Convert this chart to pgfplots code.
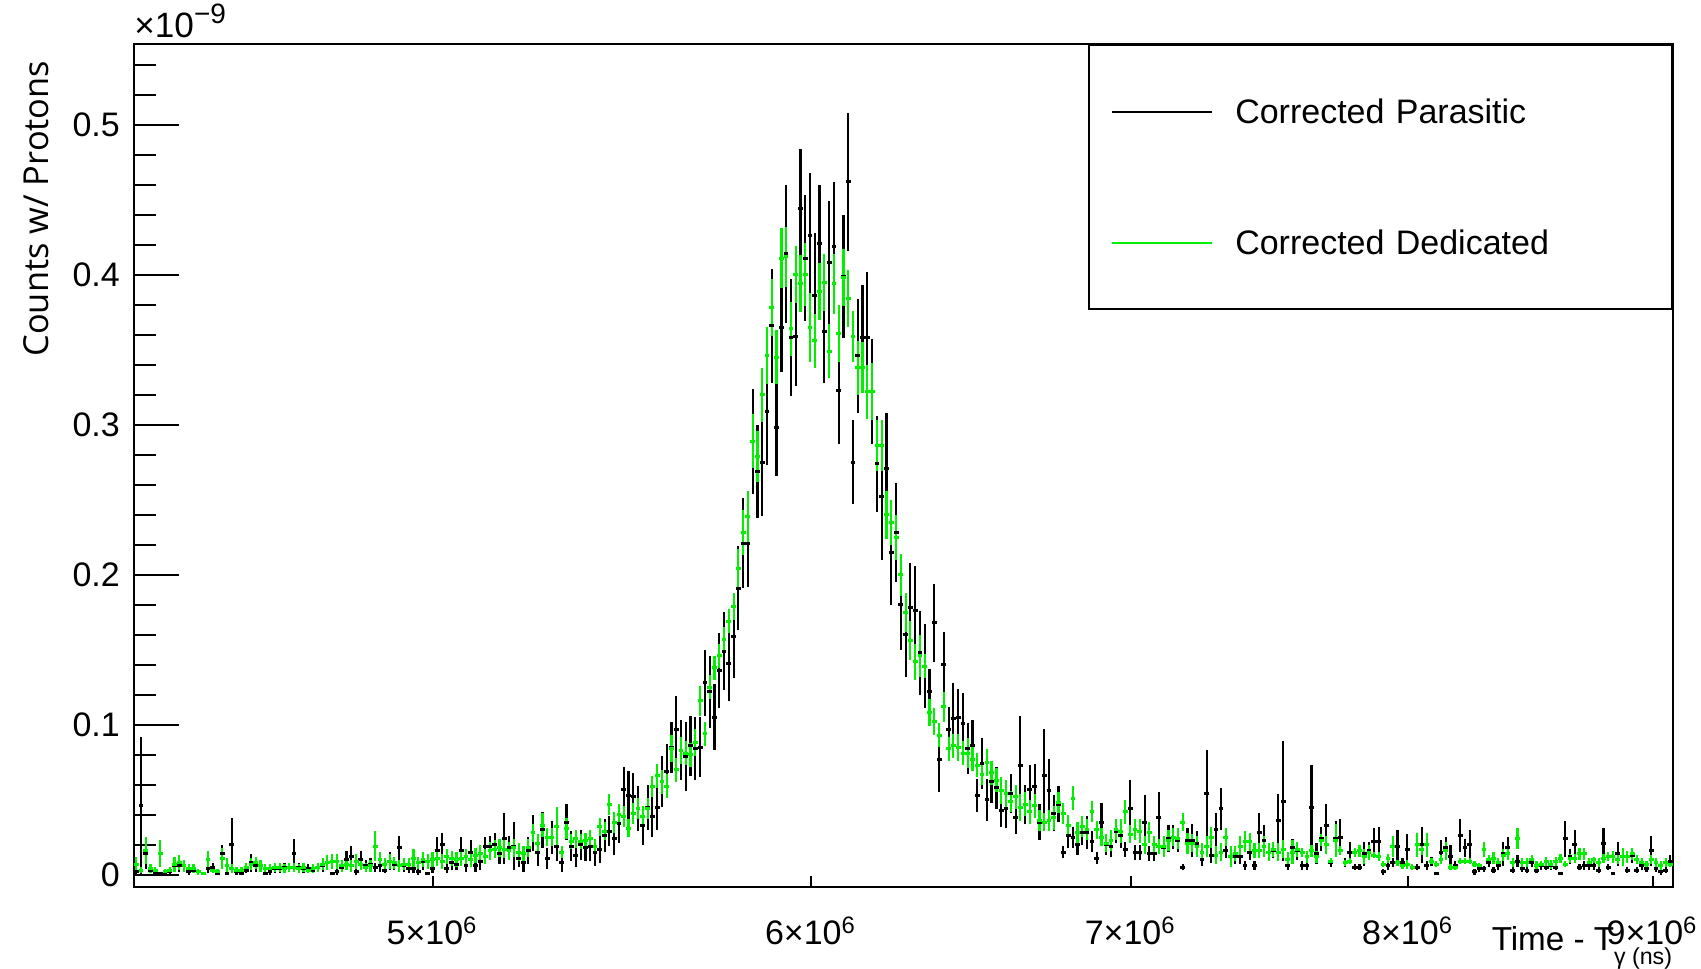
\documentclass[border=0pt]{standalone}
\usepackage{fontspec}
\setmainfont{Liberation Sans}
\newfontfamily\ylfont{Open Sans}
\usepackage{pgfplots}
\usepackage{pgfplotstable}
\pgfplotsset{compat=1.18}
\definecolor{rootgreen}{RGB}{0,240,0}

\pgfplotstableread{
lx b eb g eg
6.637 0.002 0.002 0.007 0.005
6.638 0.046 0.046 0.003 0.002
6.639 0.014 0.010 0.016 0.009
6.640 0.003 0.002 0.004 0.003
6.641 0.001 0.001 0.003 0.002
6.642 0.001 0.001 0.014 0.009
6.643 0.001 0.001 0.002 0.002
6.644 0.002 0.002 0.003 0.002
6.645 0.006 0.004 0.007 0.005
6.646 0.006 0.004 0.008 0.005
6.647 0.006 0.004 0.006 0.004
6.648 0.002 0.002 0.004 0.003
6.649 0.003 0.002 0.004 0.003
6.650 0.002 0.002 0.002 0.002
6.651 0.001 0.001 0.001 0.001
6.652 0.004 0.003 0.010 0.006
6.653 0.005 0.003 0.003 0.002
6.654 0.001 0.001 0.002 0.002
6.655 0.014 0.006 0.011 0.007
6.656 0.001 0.001 0.006 0.005
6.657 0.020 0.018 0.004 0.003
6.658 0.002 0.002 0.003 0.002
6.659 0.001 0.001 0.003 0.002
6.660 0.003 0.002 0.005 0.003
6.661 0.008 0.006 0.007 0.004
6.662 0.006 0.004 0.008 0.004
6.663 0.006 0.004 0.006 0.004
6.664 0.001 0.001 0.004 0.003
6.665 0.002 0.002 0.004 0.003
6.666 0.004 0.003 0.005 0.003
6.667 0.004 0.003 0.005 0.003
6.668 0.005 0.003 0.004 0.003
6.669 0.005 0.003 0.005 0.003
6.670 0.014 0.010 0.005 0.003
6.671 0.005 0.003 0.004 0.003
6.672 0.004 0.003 0.005 0.003
6.673 0.004 0.003 0.003 0.002
6.674 0.003 0.002 0.004 0.003
6.675 0.005 0.003 0.005 0.003
6.676 0.006 0.004 0.007 0.004
6.677 0.008 0.005 0.008 0.005
6.678 0.001 0.001 0.009 0.005
6.679 0.002 0.002 0.009 0.005
6.680 0.005 0.003 0.006 0.004
6.681 0.010 0.006 0.007 0.004
6.682 0.012 0.007 0.006 0.004
6.683 0.002 0.002 0.009 0.005
6.684 0.010 0.006 0.007 0.004
6.685 0.006 0.004 0.005 0.003
6.686 0.007 0.004 0.006 0.004
6.687 0.005 0.003 0.019 0.010
6.688 0.006 0.004 0.010 0.005
6.689 0.003 0.002 0.007 0.004
6.690 0.009 0.006 0.009 0.005
6.691 0.007 0.004 0.008 0.004
6.692 0.018 0.008 0.006 0.004
6.693 0.006 0.004 0.007 0.004
6.694 0.004 0.003 0.007 0.004
6.695 0.004 0.003 0.011 0.006
6.696 0.002 0.002 0.008 0.004
6.697 0.009 0.006 0.010 0.005
6.698 0.001 0.001 0.009 0.005
6.699 0.004 0.003 0.010 0.005
6.700 0.016 0.009 0.011 0.005
6.701 0.020 0.008 0.009 0.005
6.702 0.004 0.003 0.012 0.005
6.703 0.008 0.005 0.011 0.005
6.704 0.007 0.004 0.010 0.005
6.705 0.016 0.009 0.011 0.005
6.706 0.006 0.004 0.012 0.005
6.707 0.015 0.008 0.010 0.005
6.708 0.006 0.004 0.013 0.005
6.709 0.009 0.006 0.014 0.006
6.710 0.019 0.006 0.012 0.005
6.711 0.019 0.007 0.016 0.006
6.712 0.020 0.008 0.017 0.006
6.713 0.014 0.007 0.018 0.006
6.714 0.024 0.017 0.017 0.006
6.715 0.018 0.008 0.016 0.006
6.716 0.019 0.016 0.018 0.006
6.717 0.011 0.006 0.015 0.006
6.718 0.008 0.006 0.014 0.005
6.719 0.016 0.009 0.018 0.006
6.720 0.028 0.012 0.028 0.006
6.721 0.015 0.009 0.021 0.006
6.722 0.030 0.012 0.033 0.008
6.723 0.011 0.007 0.025 0.006
6.724 0.025 0.011 0.025 0.006
6.725 0.019 0.010 0.032 0.013
6.726 0.008 0.006 0.015 0.004
6.727 0.035 0.012 0.031 0.007
6.728 0.019 0.010 0.022 0.005
6.729 0.013 0.008 0.024 0.006
6.730 0.020 0.010 0.022 0.005
6.731 0.018 0.009 0.023 0.005
6.732 0.019 0.010 0.024 0.006
6.733 0.015 0.009 0.019 0.005
6.734 0.017 0.009 0.032 0.006
6.735 0.026 0.011 0.029 0.006
6.736 0.029 0.010 0.047 0.007
6.737 0.024 0.011 0.035 0.007
6.738 0.034 0.013 0.040 0.007
6.739 0.057 0.015 0.039 0.007
6.740 0.053 0.016 0.031 0.006
6.741 0.052 0.016 0.041 0.007
6.742 0.044 0.015 0.044 0.007
6.743 0.033 0.013 0.039 0.007
6.744 0.045 0.015 0.044 0.007
6.745 0.039 0.014 0.059 0.007
6.746 0.045 0.015 0.066 0.008
6.747 0.062 0.017 0.062 0.008
6.748 0.069 0.018 0.059 0.008
6.749 0.085 0.017 0.084 0.009
6.750 0.097 0.022 0.070 0.008
6.751 0.083 0.020 0.083 0.009
6.752 0.079 0.023 0.081 0.008
6.753 0.086 0.020 0.080 0.008
6.754 0.084 0.021 0.088 0.009
6.755 0.085 0.020 0.116 0.010
6.756 0.128 0.022 0.094 0.008
6.757 0.122 0.024 0.125 0.008
6.758 0.105 0.022 0.138 0.008
6.759 0.136 0.025 0.146 0.008
6.760 0.149 0.026 0.157 0.008
6.761 0.141 0.025 0.169 0.008
6.762 0.159 0.028 0.179 0.009
6.763 0.191 0.028 0.204 0.013
6.764 0.221 0.030 0.228 0.015
6.765 0.221 0.029 0.239 0.017
6.766 0.289 0.035 0.289 0.018
6.767 0.269 0.031 0.279 0.017
6.768 0.275 0.036 0.320 0.018
6.769 0.309 0.036 0.346 0.019
6.770 0.366 0.038 0.378 0.019
6.771 0.298 0.032 0.345 0.018
6.772 0.365 0.030 0.411 0.020
6.773 0.414 0.046 0.412 0.020
6.774 0.358 0.039 0.364 0.018
6.775 0.359 0.033 0.400 0.019
6.776 0.444 0.040 0.394 0.019
6.777 0.411 0.042 0.400 0.021
6.778 0.426 0.042 0.365 0.023
6.779 0.386 0.042 0.356 0.018
6.780 0.421 0.039 0.389 0.019
6.781 0.362 0.034 0.395 0.019
6.782 0.408 0.041 0.349 0.018
6.783 0.419 0.043 0.394 0.020
6.784 0.323 0.036 0.361 0.019
6.785 0.399 0.041 0.398 0.019
6.786 0.462 0.046 0.384 0.019
6.787 0.275 0.028 0.359 0.017
6.788 0.346 0.038 0.338 0.018
6.789 0.358 0.035 0.338 0.017
6.790 0.358 0.044 0.322 0.018
6.791 0.322 0.035 0.322 0.019
6.792 0.274 0.032 0.286 0.017
6.793 0.252 0.042 0.286 0.017
6.794 0.271 0.037 0.240 0.016
6.795 0.215 0.035 0.235 0.015
6.796 0.228 0.033 0.225 0.015
6.797 0.180 0.030 0.200 0.014
6.798 0.160 0.028 0.175 0.013
6.799 0.178 0.030 0.156 0.013
6.800 0.176 0.030 0.142 0.012
6.801 0.148 0.028 0.146 0.014
6.802 0.139 0.028 0.139 0.008
6.803 0.122 0.015 0.108 0.009
6.804 0.168 0.026 0.102 0.009
6.805 0.077 0.022 0.093 0.008
6.806 0.140 0.022 0.112 0.010
6.807 0.097 0.015 0.084 0.008
6.808 0.104 0.024 0.086 0.008
6.809 0.105 0.019 0.085 0.009
6.810 0.101 0.020 0.081 0.008
6.811 0.084 0.017 0.081 0.010
6.812 0.086 0.017 0.077 0.008
6.813 0.053 0.011 0.073 0.008
6.814 0.074 0.017 0.067 0.007
6.815 0.050 0.014 0.075 0.009
6.816 0.062 0.014 0.068 0.008
6.817 0.058 0.014 0.063 0.008
6.818 0.043 0.011 0.056 0.009
6.819 0.044 0.013 0.054 0.009
6.820 0.054 0.013 0.049 0.007
6.821 0.038 0.011 0.052 0.008
6.822 0.073 0.033 0.045 0.009
6.823 0.047 0.013 0.047 0.008
6.824 0.057 0.016 0.042 0.008
6.825 0.059 0.015 0.046 0.008
6.826 0.035 0.012 0.036 0.007
6.827 0.066 0.031 0.035 0.006
6.828 0.056 0.021 0.036 0.007
6.829 0.041 0.012 0.038 0.008
6.830 0.047 0.012 0.048 0.007
6.831 0.015 0.004 0.041 0.007
6.832 0.026 0.008 0.033 0.007
6.833 0.025 0.007 0.051 0.008
6.834 0.020 0.007 0.028 0.007
6.835 0.028 0.008 0.032 0.007
6.836 0.028 0.011 0.030 0.007
6.837 0.022 0.007 0.042 0.007
6.838 0.011 0.004 0.030 0.006
6.839 0.035 0.013 0.025 0.006
6.840 0.020 0.007 0.021 0.006
6.841 0.019 0.007 0.023 0.007
6.842 0.029 0.008 0.030 0.007
6.843 0.026 0.008 0.029 0.008
6.844 0.017 0.005 0.042 0.008
6.845 0.044 0.019 0.027 0.006
6.846 0.015 0.005 0.030 0.007
6.847 0.015 0.005 0.029 0.008
6.848 0.035 0.018 0.020 0.006
6.849 0.014 0.005 0.028 0.007
6.850 0.014 0.005 0.020 0.006
6.851 0.038 0.017 0.019 0.005
6.852 0.018 0.005 0.019 0.007
6.853 0.024 0.009 0.023 0.007
6.854 0.025 0.008 0.025 0.006
6.855 0.023 0.008 0.024 0.007
6.856 0.005 0.002 0.035 0.006
6.857 0.023 0.008 0.021 0.007
6.858 0.023 0.011 0.021 0.006
6.859 0.021 0.008 0.019 0.007
6.860 0.010 0.004 0.015 0.006
6.861 0.054 0.029 0.019 0.007
6.862 0.013 0.005 0.025 0.007
6.863 0.030 0.011 0.013 0.006
6.864 0.044 0.014 0.015 0.006
6.865 0.016 0.005 0.025 0.006
6.866 0.012 0.005 0.012 0.007
6.867 0.012 0.005 0.014 0.005
6.868 0.012 0.005 0.019 0.007
6.869 0.006 0.003 0.022 0.007
6.870 0.015 0.005 0.022 0.006
6.871 0.006 0.003 0.016 0.005
6.872 0.028 0.013 0.016 0.005
6.873 0.023 0.010 0.019 0.007
6.874 0.015 0.005 0.015 0.006
6.875 0.016 0.005 0.017 0.005
6.876 0.036 0.018 0.015 0.006
6.877 0.049 0.040 0.017 0.006
6.878 0.006 0.003 0.010 0.005
6.879 0.018 0.006 0.015 0.008
6.880 0.016 0.006 0.017 0.005
6.881 0.006 0.003 0.015 0.003
6.882 0.006 0.003 0.012 0.004
6.883 0.045 0.028 0.016 0.004
6.884 0.014 0.007 0.012 0.004
6.885 0.024 0.008 0.023 0.004
6.886 0.033 0.014 0.020 0.006
6.887 0.008 0.003 0.009 0.002
6.888 0.024 0.012 0.023 0.011
6.889 0.025 0.012 0.016 0.003
6.890 0.008 0.003 0.008 0.002
6.891 0.015 0.007 0.009 0.002
6.892 0.005 0.002 0.015 0.003
6.893 0.005 0.002 0.016 0.004
6.894 0.014 0.008 0.012 0.005
6.895 0.016 0.006 0.015 0.005
6.896 0.022 0.009 0.013 0.002
6.897 0.022 0.010 0.012 0.003
6.898 0.002 0.002 0.007 0.002
6.899 0.006 0.003 0.011 0.003
6.900 0.008 0.003 0.019 0.007
6.901 0.019 0.011 0.008 0.002
6.902 0.008 0.003 0.006 0.002
6.903 0.017 0.010 0.007 0.003
6.904 0.005 0.002 0.005 0.002
6.905 0.005 0.002 0.020 0.008
6.906 0.020 0.012 0.017 0.004
6.907 0.006 0.003 0.020 0.008
6.908 0.009 0.003 0.009 0.002
6.909 0.001 0.001 0.007 0.002
6.910 0.015 0.008 0.010 0.003
6.911 0.018 0.007 0.016 0.006
6.912 0.012 0.008 0.005 0.002
6.913 0.006 0.003 0.005 0.002
6.914 0.026 0.011 0.009 0.002
6.915 0.018 0.006 0.009 0.002
6.916 0.020 0.010 0.009 0.002
6.917 0.002 0.002 0.007 0.002
6.918 0.004 0.002 0.006 0.002
6.919 0.004 0.002 0.017 0.005
6.920 0.008 0.003 0.010 0.003
6.921 0.003 0.002 0.011 0.004
6.922 0.006 0.003 0.008 0.003
6.923 0.014 0.008 0.013 0.004
6.924 0.018 0.007 0.014 0.004
6.925 0.003 0.002 0.008 0.003
6.926 0.009 0.004 0.024 0.007
6.927 0.004 0.002 0.008 0.003
6.928 0.003 0.002 0.008 0.003
6.929 0.008 0.003 0.010 0.003
6.930 0.003 0.002 0.006 0.003
6.931 0.006 0.003 0.007 0.002
6.932 0.005 0.002 0.009 0.003
6.933 0.006 0.003 0.007 0.003
6.934 0.005 0.002 0.009 0.003
6.935 0.001 0.001 0.011 0.003
6.936 0.024 0.012 0.007 0.002
6.937 0.012 0.005 0.011 0.003
6.938 0.020 0.010 0.011 0.003
6.939 0.005 0.002 0.014 0.004
6.940 0.006 0.003 0.014 0.004
6.941 0.006 0.003 0.008 0.003
6.942 0.006 0.003 0.010 0.002
6.943 0.003 0.002 0.008 0.003
6.944 0.021 0.010 0.011 0.003
6.945 0.005 0.002 0.012 0.003
6.946 0.001 0.001 0.012 0.004
6.947 0.014 0.008 0.010 0.003
6.948 0.012 0.005 0.012 0.006
6.949 0.003 0.002 0.012 0.004
6.950 0.013 0.005 0.014 0.004
6.951 0.003 0.002 0.010 0.003
6.952 0.006 0.003 0.008 0.003
6.953 0.004 0.002 0.007 0.002
6.954 0.016 0.010 0.010 0.003
6.955 0.004 0.002 0.008 0.003
6.956 0.002 0.002 0.006 0.003
6.957 0.003 0.002 0.008 0.003
6.958 0.009 0.004 0.007 0.002
}\data

\begin{document}
\begin{tikzpicture}
\useasboundingbox (-33.375pt,-20.5pt) rectangle (391.875pt,221.75pt);
\begin{axis}[
  at={(0pt,0pt)}, anchor=south west,
  width=384.75pt, height=210.75pt, scale only axis,
  xmode=log, xmin=4.3301e6, xmax=9.0887e6,
  ymin=-0.0082, ymax=0.5538,
  axis line style={line width=0.5pt},
  tick align=inside, tick pos=left,
  xtick={5e6,6e6,7e6,8e6,9e6},
  xticklabels={5×10\textsuperscript{6},6×10\textsuperscript{6},7×10\textsuperscript{6},8×10\textsuperscript{6},9×10\textsuperscript{6}},
  minor xtick={},
  ytick={0,0.1,0.2,0.3,0.4,0.5},
  yticklabels={0,0.1,0.2,0.3,0.4,0.5},
  minor ytick={0.02,0.04,0.06,0.08,0.12,0.14,0.16,0.18,0.22,0.24,0.26,0.28,0.32,0.34,0.36,0.38,0.42,0.44,0.46,0.48,0.52,0.54},
  major tick length=11.4pt, minor tick length=5.6pt,
  every tick/.style={black, line width=0.5pt},
  x tick style={/pgfplots/major tick length=2.8pt},
  ticklabel style={font=\fontsize{8.5}{10}\selectfont},
  xticklabel style={yshift=-3.9pt},
  xlabel={Time - T\raisebox{-3.4pt}{\fontsize{5.8}{7}\selectfont γ (ns)}},
  xlabel style={at={(axis description cs:1,-0.0759)}, anchor=base east, inner sep=0pt, font=\fontsize{8.3}{10}\selectfont},
  ylabel={Counts w/ Protons},
  ylabel style={at={(axis description cs:-0.0634,0.981)}, anchor=east, inner sep=0pt, font=\ylfont\fontsize{8.6}{10}\selectfont},
  legend style={at={(axis description cs:1,1)}, anchor=north east, draw=black, line width=0.5pt, fill=white,
    inner xsep=5.5pt, inner ysep=13.6pt, row sep=26.65pt, column sep=5.6pt,
    font=\fontsize{8.5}{10}\selectfont,
    nodes={inner sep=0pt, text height=6.1pt, text depth=0pt, text width=103.65pt, align=left}},
  legend cell align=left,
  legend image code/.code={\draw[#1, line width=0.5pt] (0pt,0pt) -- (25pt,0pt);},
]
\addplot[black, only marks, mark=-, mark size=0.6pt, mark options={line width=0.7pt}, forget plot,
  error bars/.cd, y dir=both, y explicit, error mark=none, error bar style={line width=0.55pt}]
  table[x expr=10^\thisrow{lx}, y=b, y error=eb]{\data};
\addplot[rootgreen, only marks, mark=-, mark size=0.6pt, mark options={line width=0.7pt}, forget plot,
  error bars/.cd, y dir=both, y explicit, error mark=none, error bar style={line width=0.55pt}]
  table[x expr=10^\thisrow{lx}, y=g, y error=eg]{\data};
\addlegendimage{black}
\addlegendentry{Corrected Parasitic}
\addlegendimage{rootgreen}
\addlegendentry{Corrected Dedicated}
\end{axis}
\node[anchor=base west, inner sep=0pt, yshift=1.6pt, font=\fontsize{8.8}{10}\selectfont] at (current axis.north west) {×10\raisebox{3.6pt}{\fontsize{7}{8}\selectfont −9}};
\end{tikzpicture}
\end{document}
